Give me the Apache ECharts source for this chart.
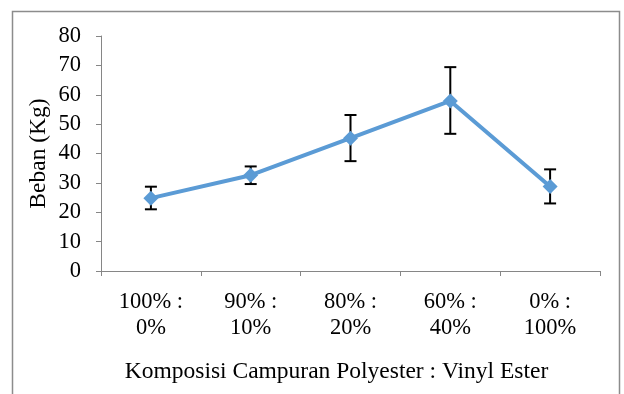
<!DOCTYPE html>
<html>
<head>
<meta charset="utf-8">
<script src="https://cdn.jsdelivr.net/npm/echarts@6/dist/echarts.min.js"></script>
<style>
html,body{margin:0;padding:0;background:#fff;}
#c{width:624px;height:394px;}
</style>
</head>
<body>
<div id="c"></div>
<script>
var categories = ['100% :\n0%', '90% :\n10%', '80% :\n20%', '60% :\n40%', '0% :\n100%'];
var values = [24.8, 32.6, 45.2, 57.9, 28.8];
var errLow = [21.0, 29.6, 37.4, 46.7, 23.0];
var errHigh = [28.7, 35.6, 53.1, 69.4, 34.6];
var yTicks = { min: 0, max: 80, interval: 10 };

var font = '"Liberation Serif","Times New Roman",serif';
var axisColor = '#868686';

var chart = echarts.init(document.getElementById('c'), null, {renderer: 'canvas'});
chart.setOption({
  animation: false,
  backgroundColor: '#fff',
  graphic: [{
    type: 'rect',
    shape: {x: 12.5, y: 11.5, width: 607, height: 400},
    style: {fill: 'none', stroke: '#8c8c8c', lineWidth: 1.5},
    silent: true
  }],
  grid: {left: 101, right: 24, top: 36, bottom: 123},
  xAxis: {
    type: 'category',
    data: categories,
    boundaryGap: true,
    name: 'Komposisi Campuran Polyester : Vinyl Ester',
    nameLocation: 'middle',
    nameGap: 89,
    nameMoveOverlap: false,
    nameTextStyle: {fontFamily: font, fontSize: 23.5, color: '#000', padding: [0, 28, 0, 0]},
    axisLine: {lineStyle: {color: axisColor, width: 1}},
    axisTick: {show: true, length: 5, lineStyle: {color: axisColor}, alignWithLabel: false},
    axisLabel: {fontFamily: font, fontSize: 22.5, color: '#000', lineHeight: 26, margin: 18, interval: 0}
  },
  yAxis: {
    type: 'value',
    min: yTicks.min, max: yTicks.max, interval: yTicks.interval,
    name: 'Beban (Kg)',
    nameLocation: 'middle',
    nameGap: 50,
    nameMoveOverlap: false,
    nameTextStyle: {fontFamily: font, fontSize: 23.5, color: '#000'},
    axisLine: {show: true, lineStyle: {color: axisColor, width: 1}},
    axisTick: {show: true, length: 5, lineStyle: {color: axisColor}},
    splitLine: {show: false},
    axisLabel: {fontFamily: font, fontSize: 22.5, color: '#000', margin: 20}
  },
  series: [{
    type: 'line',
    data: values,
    symbol: 'diamond',
    symbolSize: 15,
    lineStyle: {color: '#5B9BD5', width: 4},
    itemStyle: {color: '#5B9BD5'},
    z: 3
  }, {
    type: 'custom',
    data: categories.map(function (c, i) { return [i, errLow[i], errHigh[i]]; }),
    renderItem: function (params, api) {
      var lo = api.coord([api.value(0), api.value(1)]);
      var hi = api.coord([api.value(0), api.value(2)]);
      var hw = 6;
      var st = {stroke: '#000', lineWidth: 2, fill: 'none'};
      return {
        type: 'group',
        children: [
          {type: 'line', shape: {x1: hi[0], y1: hi[1], x2: lo[0], y2: lo[1]}, style: st},
          {type: 'line', shape: {x1: hi[0] - hw, y1: hi[1], x2: hi[0] + hw, y2: hi[1]}, style: st},
          {type: 'line', shape: {x1: lo[0] - hw, y1: lo[1], x2: lo[0] + hw, y2: lo[1]}, style: st}
        ]
      };
    },
    z: 2
  }]
});
</script>
</body>
</html>
